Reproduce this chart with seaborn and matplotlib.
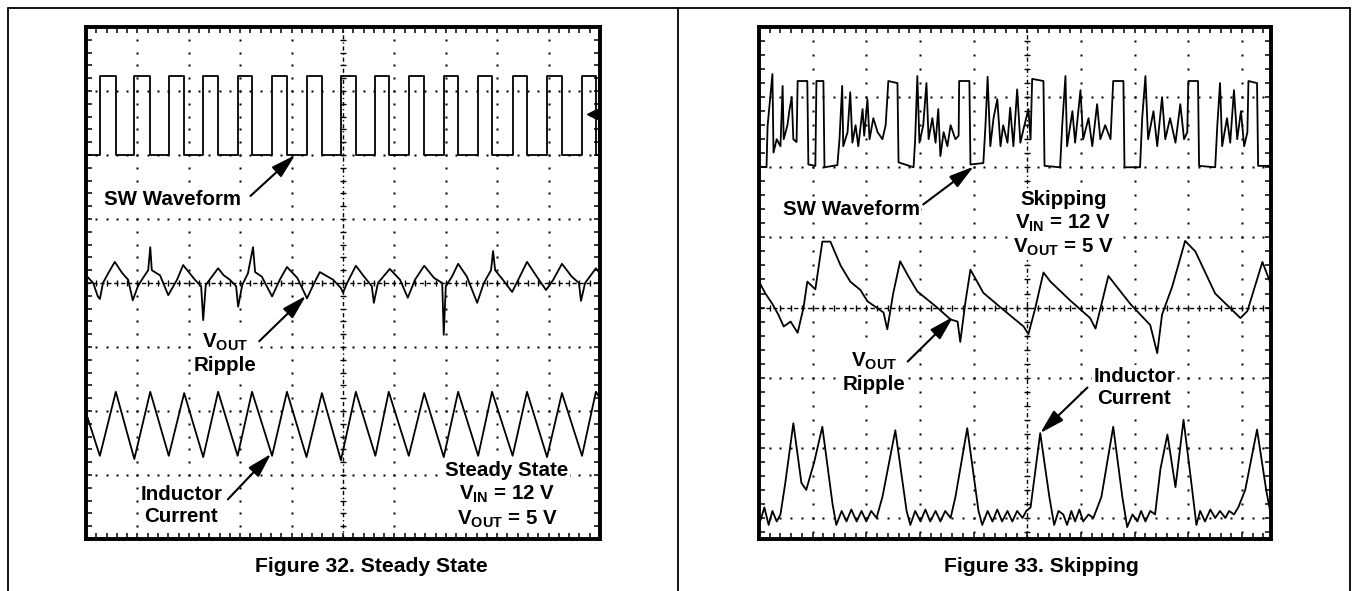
import numpy as np
import matplotlib
matplotlib.use("Agg")
import matplotlib.pyplot as plt
from matplotlib.lines import Line2D
import seaborn as sns

sns.set_theme(style="white")
plt.rcParams['font.family'] = ['Liberation Sans', 'DejaVu Sans']
plt.rcParams['text.color'] = 'black'
plt.rcParams['mathtext.fontset'] = 'custom'
plt.rcParams['mathtext.rm'] = 'Liberation Sans:bold'
plt.rcParams['mathtext.it'] = 'Liberation Sans:bold'
plt.rcParams['mathtext.bf'] = 'Liberation Sans:bold'

# ---------------- data (scope divisions) ----------------
# Figure 32 - steady state
sw32_rise = [-4.73, -4.06, -3.39, -2.72, -2.05, -1.38, -0.71, -0.04, 0.63, 1.28,
             1.96, 2.63, 3.30, 3.97, 4.65]
sw32_fall = [-4.42, -3.75, -3.09, -2.43, -1.77, -1.09, -0.41, 0.25, 0.89, 1.58,
             2.24, 2.90, 3.58, 4.26, 4.92]
sw32_low = 2.0
sw32_high = 3.23

vout32_x = [-5.0, -4.86, -4.77, -4.73, -4.67, -4.57, -4.44, -4.30, -4.18, -4.09,
            -3.99, -3.89, -3.79, -3.75, -3.72, -3.56, -3.40, -3.23, -3.11, -2.98,
            -2.88, -2.76, -2.72, -2.67, -2.55, -2.43, -2.32, -2.20, -2.08, -2.04,
            -1.96, -1.85, -1.75, -1.71, -1.58, -1.38, -1.23, -1.09, -0.89, -0.70,
            -0.56, -0.45, -0.19, -0.04, 0.0, 0.08, 0.25, 0.41, 0.56, 0.60,
            0.68, 0.91, 1.11, 1.26, 1.40, 1.58, 1.77, 1.93, 1.96, 2.00,
            2.12, 2.24, 2.41, 2.61, 2.74, 2.88, 2.92, 2.96, 3.11, 3.29,
            3.44, 3.58, 3.77, 3.95, 4.09, 4.26, 4.45, 4.59, 4.63, 4.71, 4.92, 5.0]
vout32_y = [0.12, 0.0, -0.21, -0.25, 0.0, 0.15, 0.33, 0.16, 0.05, -0.27,
            -0.05, 0.08, 0.2, 0.56, 0.2, 0.12, -0.19, 0.05, 0.28, 0.15,
            0.05, -0.05, -0.58, -0.03, 0.1, 0.23, 0.12, 0.05, -0.05, -0.37,
            -0.03, 0.15, 0.56, 0.17, 0.1, -0.21, 0.05, 0.25, 0.08, -0.24,
            0.0, 0.17, 0.05, -0.08, -0.15, 0.0, 0.27, 0.1, -0.05, -0.31,
            0.0, 0.22, 0.05, -0.23, 0.05, 0.27, 0.08, 0.0, -0.81, -0.05,
            0.1, 0.3, 0.1, -0.31, 0.0, 0.2, 0.5, 0.2, 0.05, -0.14,
            0.1, 0.33, 0.1, -0.11, 0.05, 0.3, 0.1, 0.0, -0.28, 0.0, 0.23, 0.15]

il32_start = -2.03
il32_trough = [-2.70, -2.75, -2.70, -2.72, -2.70, -2.70, -2.72, -2.77, -2.70, -2.70,
               -2.72, -2.70, -2.70, -2.72, -2.70]
il32_peak = [-1.70, -1.70, -1.72, -1.70, -1.70, -1.70, -1.72, -1.70, -1.70, -1.72,
             -1.70, -1.70, -1.70, -1.72, -1.70]
il32_end = -1.80

# Figure 33 - skipping
sw33_x = [-5.0, -4.86, -4.84, -4.75, -4.73, -4.67, -4.60, -4.56, -4.54, -4.47,
          -4.43, -4.39, -4.36, -4.30, -4.28, -4.10, -4.08, -3.95, -3.93, -3.80,
          -3.78, -3.54, -3.50, -3.45, -3.43, -3.35, -3.30, -3.26, -3.20, -3.15,
          -3.07, -3.04, -2.98, -2.94, -2.87, -2.79, -2.70, -2.64, -2.59, -2.42,
          -2.40, -2.12, -2.09, -2.05, -2.01, -1.94, -1.88, -1.84, -1.77, -1.71,
          -1.66, -1.62, -1.56, -1.49, -1.43, -1.34, -1.28, -1.27, -1.08, -1.06,
          -0.82, -0.78, -0.74, -0.69, -0.63, -0.56, -0.50, -0.45, -0.37, -0.32,
          -0.26, -0.19, -0.13, -0.07, 0.02, 0.06, 0.09, 0.30, 0.32, 0.61,
          0.65, 0.71, 0.74, 0.84, 0.89, 0.99, 1.04, 1.14, 1.21, 1.30,
          1.36, 1.45, 1.55, 1.60, 1.79, 1.81, 2.10, 2.14, 2.20, 2.25,
          2.35, 2.42, 2.51, 2.57, 2.66, 2.76, 2.85, 2.92, 2.98, 3.00,
          3.18, 3.20, 3.50, 3.54, 3.59, 3.63, 3.72, 3.78, 3.85, 3.91,
          3.98, 4.04, 4.10, 4.12, 4.28, 4.30, 4.56, 4.58]
sw33_y = [2.01, 2.0, 2.59, 3.33, 2.21, 2.4, 2.3, 3.16, 2.4, 2.6,
          2.83, 3.0, 2.4, 2.36, 3.23, 3.23, 2.04, 2.02, 3.23, 3.23,
          2.0, 2.03, 2.4, 3.16, 2.3, 2.5, 3.07, 2.35, 2.6, 2.3,
          2.83, 2.45, 2.97, 2.4, 2.7, 2.5, 2.4, 2.6, 3.23, 3.2,
          2.07, 2.0, 2.4, 3.3, 2.35, 2.6, 3.2, 2.4, 2.7, 2.35,
          2.83, 2.16, 2.5, 2.3, 2.6, 2.4, 2.45, 3.23, 3.23, 2.04,
          2.06, 2.6, 3.29, 2.3, 2.7, 2.97, 2.3, 2.6, 2.35, 2.85,
          2.3, 3.11, 2.35, 2.55, 2.83, 2.4, 3.26, 3.23, 2.02, 2.0,
          2.6, 3.3, 2.3, 2.8, 2.35, 3.1, 2.4, 2.7, 2.3, 2.9,
          2.4, 2.6, 2.4, 3.23, 3.23, 2.0, 2.0, 2.7, 3.3, 2.4,
          2.8, 2.3, 3.0, 2.4, 2.7, 2.35, 2.9, 2.4, 2.5, 3.23,
          3.23, 2.02, 2.0, 2.6, 3.2, 2.3, 2.7, 2.35, 3.1, 2.4,
          2.8, 2.3, 2.5, 3.23, 3.2, 2.02, 2.02, 2.9]

vout33_x = [-5.0, -4.88, -4.75, -4.64, -4.54, -4.41, -4.28, -4.17, -4.10, -3.95,
            -3.82, -3.67, -3.48, -3.30, -3.11, -2.98, -2.68, -2.61, -2.50, -2.37,
            -2.22, -2.05, -1.68, -1.43, -1.30, -1.25, -1.15, -1.06, -0.82, -0.45,
            -0.07, 0.02, 0.15, 0.30, 0.43, 0.80, 1.17, 1.27, 1.51, 1.92,
            2.29, 2.42, 2.51, 2.70, 2.94, 3.13, 3.50, 3.97, 4.10, 4.38, 4.58]
vout33_y = [0.37, 0.2, 0.05, -0.1, -0.27, -0.2, -0.36, 0.0, 0.37, 0.26,
            0.94, 0.94, 0.6, 0.37, 0.25, 0.09, -0.07, -0.31, 0.2, 0.66,
            0.45, 0.23, 0.0, -0.17, -0.2, -0.49, 0.1, 0.54, 0.21, -0.03,
            -0.27, -0.38, 0.0, 0.5, 0.37, 0.1, -0.15, -0.3, 0.45, 0.05,
            -0.25, -0.65, -0.1, 0.3, 0.95, 0.8, 0.2, -0.15, -0.05, 0.65, 0.25]

il33_x = [-4.97, -4.90, -4.82, -4.75, -4.67, -4.60, -4.51, -4.36, -4.21, -4.12,
          -3.97, -3.82, -3.63, -3.56, -3.46, -3.37, -3.28, -3.18, -3.09, -3.00,
          -2.91, -2.81, -2.70, -2.46, -2.25, -2.18, -2.09, -1.99, -1.90, -1.81,
          -1.71, -1.62, -1.53, -1.43, -1.34, -1.12, -0.91, -0.84, -0.74, -0.65,
          -0.56, -0.47, -0.37, -0.28, -0.19, -0.09, -0.02, 0.06, 0.24, 0.41,
          0.50, 0.58, 0.67, 0.74, 0.82, 0.89, 0.97, 1.04, 1.14, 1.23,
          1.38, 1.60, 1.77, 1.86, 1.96, 2.05, 2.12, 2.20, 2.29, 2.38,
          2.48, 2.61, 2.76, 2.91, 3.04, 3.15, 3.22, 3.31, 3.41, 3.50,
          3.59, 3.69, 3.76, 3.85, 3.93, 4.06, 4.28, 4.45, 4.58]
il33_y = [-3.03, -2.85, -3.1, -2.9, -3.05, -2.95, -2.5, -1.65, -2.5, -2.6,
          -2.2, -1.7, -2.8, -3.1, -2.9, -3.05, -2.88, -3.05, -2.9, -3.05,
          -2.9, -3.0, -2.7, -1.75, -2.9, -3.1, -2.9, -3.05, -2.88, -3.05,
          -2.9, -3.05, -2.9, -3.0, -2.7, -1.72, -2.9, -3.1, -2.9, -3.05,
          -2.88, -3.05, -2.9, -3.05, -2.9, -3.0, -2.9, -2.85, -1.79, -2.7,
          -3.1, -2.9, -2.95, -3.1, -2.9, -3.05, -2.88, -3.05, -2.95, -3.0,
          -2.7, -1.7, -2.7, -3.13, -2.95, -3.05, -2.9, -3.05, -2.9, -2.95,
          -2.3, -1.81, -2.56, -1.6, -2.4, -3.1, -2.9, -3.05, -2.88, -3.0,
          -2.9, -3.0, -2.9, -2.95, -2.85, -2.6, -1.74, -2.6, -3.13]

captions = ["Figure 32. Steady State", "Figure 33. Skipping"]

# ---------------- figure ----------------
W, H = 1354, 591
fig = plt.figure(figsize=(W / 100, H / 100), dpi=100)
fig.patch.set_facecolor('white')

def fx(px):
    return px / W

def fy(py):
    return 1 - py / H

# outer table lines
for (x0, y0, x1, y1) in [(8, 8, 1350, 8), (8, 8, 8, 591), (1350, 8, 1350, 591), (678, 8, 678, 591)]:
    fig.add_artist(Line2D([fx(x0), fx(x1)], [fy(y0), fy(y1)], color='black', lw=1.3,
                          transform=fig.transFigure))

FS = 14.8
TXT = dict(fontsize=FS, fontweight='bold', color='black')


def scope_axes(left, top, right, bottom, xlim, ylim):
    ax = fig.add_axes([fx(left), fy(bottom), fx(right) - fx(left), (bottom - top) / H])
    ax.set_xlim(*xlim)
    ax.set_ylim(*ylim)
    ax.set_facecolor('white')
    for s in ax.spines.values():
        s.set_color('black')
        s.set_linewidth(2.8)
    ax.xaxis.set_major_locator(matplotlib.ticker.MultipleLocator(1))
    ax.yaxis.set_major_locator(matplotlib.ticker.MultipleLocator(1))
    ax.xaxis.set_minor_locator(matplotlib.ticker.MultipleLocator(0.2))
    ax.yaxis.set_minor_locator(matplotlib.ticker.MultipleLocator(0.2))
    ax.tick_params(which='both', direction='in', length=4.5, width=1.1, color='black',
                   top=True, right=True, bottom=True, left=True,
                   labelbottom=False, labelleft=False)
    # dotted graticule
    xs_major = [v for v in range(int(np.ceil(xlim[0])), int(np.floor(xlim[1])) + 1)
                if v != 0 and xlim[0] < v < xlim[1]]
    ys_major = [v for v in range(int(np.ceil(ylim[0])), int(np.floor(ylim[1])) + 1)
                if v != 0 and ylim[0] < v < ylim[1]]
    ysteps = np.arange(np.ceil(ylim[0] * 5) / 5, ylim[1] + 0.001, 0.2)
    xsteps = np.arange(np.ceil(xlim[0] * 5) / 5, xlim[1] + 0.001, 0.2)
    for xv in xs_major:
        ax.plot(np.full_like(ysteps, xv), ysteps, ls='none', marker='s', ms=1.6,
                mfc='black', mec='none', zorder=1)
    for yv in ys_major:
        ax.plot(xsteps, np.full_like(xsteps, yv), ls='none', marker='s', ms=1.6,
                mfc='black', mec='none', zorder=1)
    # centre cross
    ax.axvline(0, color='black', lw=1.0, ls=(0, (3, 2, 1, 2)), zorder=1)
    ax.axhline(0, color='black', lw=1.0, ls=(0, (3, 2)), zorder=1)
    ax.plot(np.zeros_like(ysteps), ysteps, ls='none', marker='_', ms=5, mew=1.0,
            color='black', zorder=1)
    ax.plot(xsteps, np.zeros_like(xsteps), ls='none', marker='|', ms=5, mew=1.0,
            color='black', zorder=1)
    return ax


def trace(ax, xs, ys):
    sns.lineplot(x=np.asarray(xs, float), y=np.asarray(ys, float), ax=ax, estimator=None,
                 sort=False, color='black', lw=1.3, legend=False, zorder=3)


def label(ax, x, y, s, ha='center'):
    ax.text(x, y, s, ha=ha, va='center', multialignment='center', linespacing=1.22,
            bbox=dict(facecolor='white', edgecolor='none', pad=1.0), zorder=5, **TXT)


def arrow(ax, tail, head):
    ax.annotate('', xy=head, xytext=tail,
                arrowprops=dict(arrowstyle='-|>,head_length=1.5,head_width=0.42',
                                mutation_scale=10, lw=1.5, color='black',
                                shrinkA=0, shrinkB=0), zorder=6)

VOUT = r'$\mathrm{V_{OUT}}$'
VIN = r'$\mathrm{V_{IN}}$'

# ---------- Figure 32 ----------
ax1 = scope_axes(86, 27, 600, 539, (-5, 5), (-4, 4))

swx, swy = [-5.0], [sw32_low]
for r, f in zip(sw32_rise, sw32_fall):
    swx += [r, r, f, f]
    swy += [sw32_low, sw32_high, sw32_high, sw32_low]
swx += [4.98, 4.98, 5.0]
swy += [sw32_low, sw32_high, sw32_high]
trace(ax1, swx, swy)
trace(ax1, vout32_x, vout32_y)

ilx, ily = [-5.0], [il32_start]
for r, tv, f, pv in zip(sw32_rise, il32_trough, sw32_fall, il32_peak):
    ilx += [r, f]
    ily += [tv, pv]
ilx += [5.0]
ily += [il32_end]
trace(ax1, ilx, ily)

# trigger marker
ax1.plot([4.85], [2.64], marker='<', ms=7, color='black', zorder=4)

label(ax1, -4.65, 1.31, 'SW Waveform', ha='left')
arrow(ax1, (-1.80, 1.36), (-0.93, 2.0))
label(ax1, -2.30, -1.10, VOUT + '\nRipple')
arrow(ax1, (-1.63, -0.91), (-0.72, -0.20))
label(ax1, -3.15, -3.48, 'Inductor\nCurrent')
arrow(ax1, (-2.24, -3.38), (-1.40, -2.67))
label(ax1, 3.19, -3.32, 'Steady State\n' + VIN + ' = 12 V\n' + VOUT + ' = 5 V')

fig.text(fx(371), fy(567), captions[0], ha='center', va='center', fontsize=15.2,
         fontweight='bold', color='black')

# ---------- Figure 33 ----------
ax2 = scope_axes(759, 27, 1271, 539, (-5, 4.54), (-3.3, 4.0))
trace(ax2, sw33_x, sw33_y)
trace(ax2, vout33_x, vout33_y)
trace(ax2, il33_x, il33_y)

label(ax2, -4.56, 1.40, 'SW Waveform', ha='left')
arrow(ax2, (-1.94, 1.47), (-1.0, 2.01))
label(ax2, 0.67, 1.19, 'Skipping\n' + VIN + ' = 12 V\n' + VOUT + ' = 5 V')
label(ax2, -2.85, -0.92, VOUT + '\nRipple')
arrow(ax2, (-2.23, -0.77), (-1.38, -0.13))
label(ax2, 1.99, -1.14, 'Inductor\nCurrent')
arrow(ax2, (1.12, -1.14), (0.24, -1.79))

fig.text(fx(1041), fy(567), captions[1], ha='center', va='center', fontsize=15.2,
         fontweight='bold', color='black')

fig.savefig('out.png', dpi=100, facecolor='white')
